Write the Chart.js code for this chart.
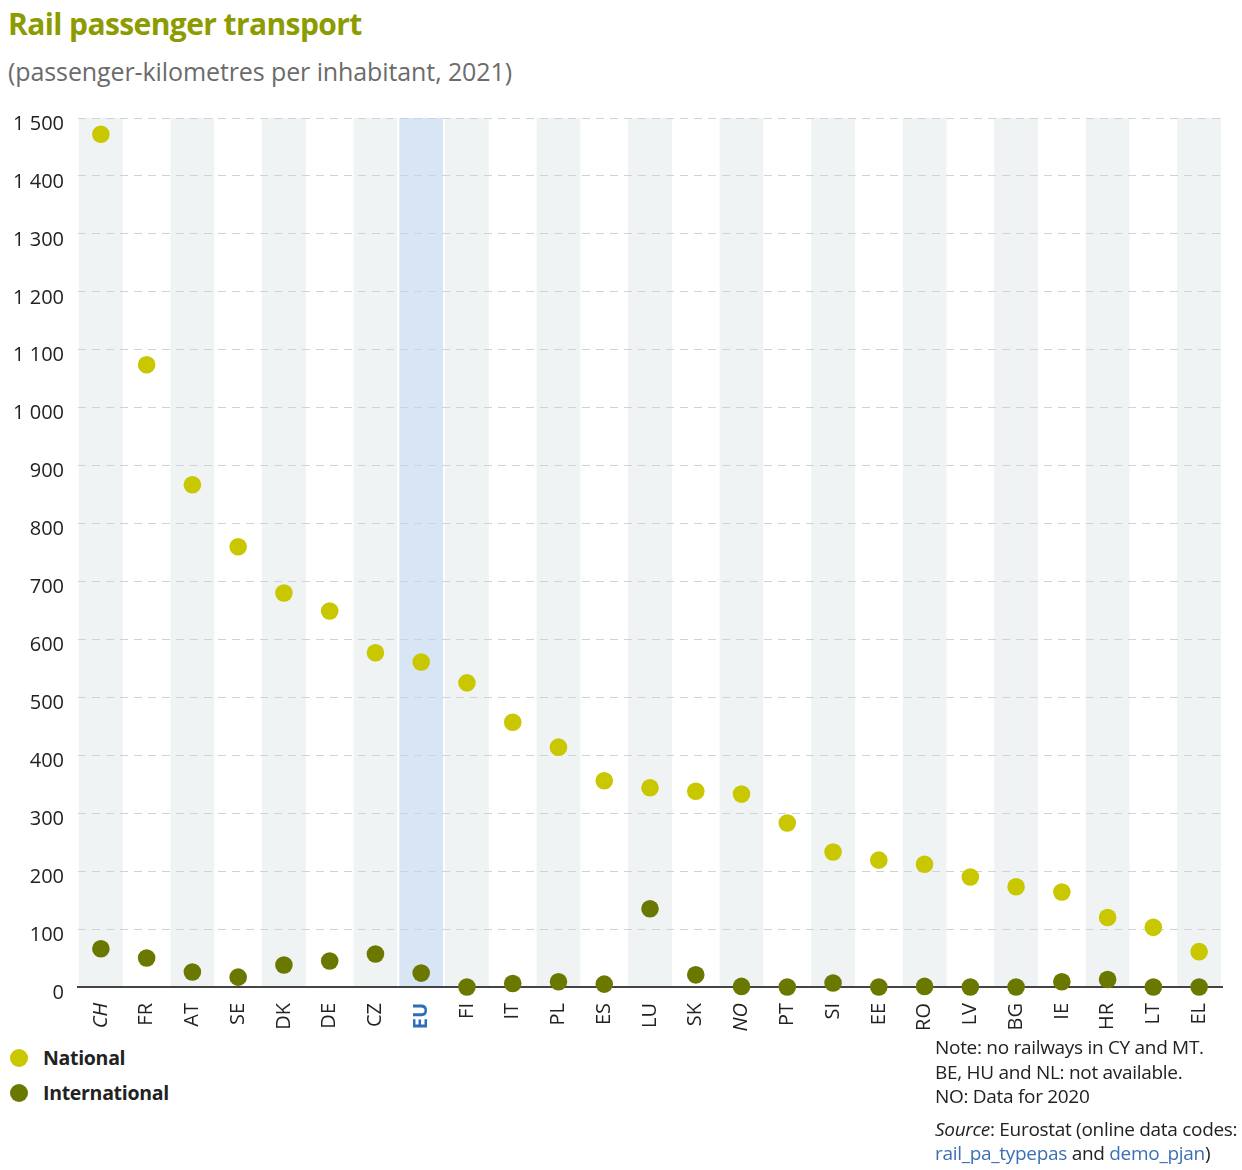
<!DOCTYPE html>
<html>
<head>
<meta charset="utf-8">
<script src="https://cdn.jsdelivr.net/npm/chart.js@4.4.1/dist/chart.umd.min.js"></script>
<style>
  body { margin: 0; width: 1242px; height: 1170px; background: #fff; font-family: "Open Sans", sans-serif; position: relative; overflow: hidden; }
  #title { position: absolute; left: 8px; top: 3px; font-size: 30px; font-weight: bold; color: #8c9b00; letter-spacing: -0.6px; }
  #subtitle { position: absolute; left: 8px; top: 54px; font-size: 25px; color: #6b6b6b; letter-spacing: -0.1px; }
  #wrap { position: absolute; left: 0; top: 92px; }
  .legend { position: absolute; left: 10px; font-size: 19.5px; font-weight: bold; color: #222; letter-spacing: -0.3px; }
  .legend span { display: inline-block; width: 18px; height: 18px; border-radius: 50%; vertical-align: -2px; margin-right: 15px; }
  #note { position: absolute; left: 935px; top: 1035px; font-size: 19px; color: #222; line-height: 24.5px; letter-spacing: -0.3px; }
  #note a { color: #3d6fb5; text-decoration: none; }
</style>
</head>
<body>
<div id="title">Rail passenger transport</div>
<div id="subtitle">(passenger-kilometres per inhabitant, 2021)</div>
<div id="wrap"><canvas id="railChart" width="1242" height="948"></canvas></div>
<div class="legend" style="top:1044px"><span style="background:#c8c700"></span>National</div>
<div class="legend" style="top:1079px"><span style="background:#6b7800"></span>International</div>
<div id="note">Note: no railways in CY and MT.<br>BE, HU and NL: not available.<br>NO: Data for 2020<div style="height:8px"></div><i>Source</i>: Eurostat (online data codes:<br><a>rail_pa_typepas</a> and <a>demo_pjan</a>)</div>
<script>
// Pays (ordre du graphique)
const countries = ['CH', 'FR', 'AT', 'SE', 'DK', 'DE', 'CZ', 'EU', 'FI', 'IT', 'PL', 'ES', 'LU',
                   'SK', 'NO', 'PT', 'SI', 'EE', 'RO', 'LV', 'BG', 'IE', 'HR', 'LT', 'EL'];
const italicCountries = ['CH', 'NO'];

// Transport national (pkm par habitant)
const nationalValues = [1472, 1074, 867, 760, 680, 649, 577, 561, 525, 457, 414, 356, 344,
                        338, 333, 283, 233, 219, 212, 190, 173, 164, 120, 103, 61];

// Transport international
const internationalValues = [66, 50, 26, 17, 38, 45, 57, 24, 0, 6, 9, 5, 135,
                             21, 1, 0, 7, 0, 1, 0, 0, 9, 13, 0, 0];

const yMax = 1500;
const yStep = 100;

// Bandes de fond derrière chaque pays
const stripes = {
    id: 'stripes',
    beforeDraw(chart) {
        const { ctx, chartArea, scales: { x } } = chart;
        const w = x.width / countries.length;
        countries.forEach((c, i) => {
            let fill = null;
            if (c === 'EU') fill = '#d8e5f5';
            else if (i % 2 === 0) fill = '#eff3f4';
            if (!fill) return;
            const cx = x.getPixelForValue(i);
            ctx.fillStyle = fill;
            ctx.fillRect(cx - w / 2 + 1, chartArea.top, w - 2, chartArea.bottom - chartArea.top);
        });
    }
};

new Chart(document.getElementById('railChart'), {
    type: 'line',
    data: {
        labels: countries,
        datasets: [{
            label: 'National',
            data: nationalValues,
            showLine: false,
            pointRadius: 8.8,
            pointBorderWidth: 0,
            pointBackgroundColor: '#c8c700',
            borderColor: '#c8c700'
        }, {
            label: 'International',
            data: internationalValues,
            showLine: false,
            pointRadius: 8.8,
            pointBorderWidth: 0,
            pointBackgroundColor: '#6b7800',
            borderColor: '#6b7800',
            clip: false
        }]
    },
    options: {
        responsive: false,
        animation: false,
        layout: { padding: { top: 10, right: 20, left: 0, bottom: 0 } },
        scales: {
            x: {
                offset: true,
                grid: { display: false },
                border: { display: true, color: '#444', width: 2 },
                ticks: {
                    autoSkip: false,
                    minRotation: 90,
                    maxRotation: 90,
                    padding: 8,
                    color: (ctx) => countries[ctx.index] === 'EU' ? '#2e6db8' : '#222',
                    font: (ctx) => ({
                        family: '"Open Sans", sans-serif',
                        size: 20,
                        weight: countries[ctx.index] === 'EU' ? 'bold' : 'normal',
                        style: italicCountries.includes(countries[ctx.index]) ? 'italic' : 'normal'
                    })
                },
                afterFit(scale) { scale.height = 53; }
            },
            y: {
                min: 0,
                max: yMax,
                grid: { color: '#cfd3d6', lineWidth: 1, drawTicks: false },
                border: { display: false, dash: [8, 6] },
                ticks: {
                    stepSize: yStep,
                    padding: 14,
                    color: '#222',
                    font: { family: '"Open Sans", sans-serif', size: 20, lineHeight: '12px' },
                    // ligne vide devant : décale l'étiquette un peu sous la grille
                    callback: (v) => ['', String(v).replace(/\B(?=(\d{3})+(?!\d))/g, ' ')]
                },
                afterFit(scale) { scale.width = 78; }
            }
        },
        plugins: {
            legend: { display: false },
            tooltip: { enabled: false }
        }
    },
    plugins: [stripes]
});
</script>
</body>
</html>
